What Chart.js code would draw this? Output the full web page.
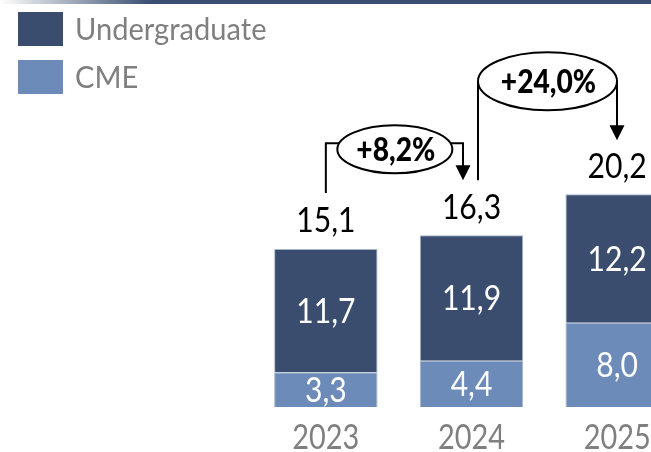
<!DOCTYPE html>
<html>
<head>
<meta charset="utf-8">
<script src="https://cdn.jsdelivr.net/npm/chart.js@4"></script>
<style>
html,body{margin:0;padding:0;overflow:hidden;background:#fff;width:651px;height:452px;}
canvas{display:block;}
</style>
</head>
<body>
<canvas id="c" width="690" height="452"></canvas>
<script>
const categories = ["2023", "2024", "2025"];
const undergraduate = [11.7, 11.9, 12.2];
const cme = [3.3, 4.4, 8.0];
const totals = [15.1, 16.3, 20.2];
const growthLabels = ["+8,2%", "+24,0%"];
const seriesNames = ["Undergraduate", "CME"];

const DARK = "#3a4d6e";
const LIGHT = "#6d8bb8";
const FONT = "Lato";
const fmt = v => v.toFixed(1).replace(".", ",");

function txt(ctx, s, x, y, font, color, sx, baseline) {
  ctx.save();
  ctx.font = font;
  ctx.fillStyle = color;
  ctx.textAlign = "center";
  ctx.textBaseline = baseline || "middle";
  ctx.translate(x, y);
  ctx.scale(sx, 1);
  ctx.fillText(s, 0, 0);
  ctx.restore();
}

const deco = {
  id: "deco",
  afterDraw(chart) {
    const ctx = chart.ctx;
    const xs = chart.scales.x, ys = chart.scales.y;
    ctx.save();
    // top gradient rule
    const g = ctx.createLinearGradient(0, 0, 150, 0);
    g.addColorStop(0, "rgba(58,79,114,0)");
    g.addColorStop(1, "#3a4f72");
    ctx.fillStyle = g;
    ctx.fillRect(0, 0, 150, 4);
    ctx.fillStyle = "#3a4f72";
    ctx.fillRect(150, 0, chart.width - 150, 4);

    // legend
    const legendCols = [DARK, LIGHT];
    ctx.font = "30px " + FONT;
    ctx.textBaseline = "middle";
    ctx.textAlign = "left";
    seriesNames.forEach((n, i) => {
      ctx.fillStyle = legendCols[i];
      ctx.fillRect(18, 12 + i * 48, 45, 34);
      ctx.save();
      ctx.translate(75, 30 + i * 48);
      ctx.scale(0.97, 1);
      ctx.fillStyle = "#7f7f7f";
      ctx.fillText(n, 0, 0);
      ctx.restore();
    });

    const cx = categories.map((c, i) => xs.getPixelForValue(i));
    const tops = totals.map(t => ys.getPixelForValue(t));
    const numFont = "35px " + FONT;

    // segment labels
    categories.forEach((c, i) => {
      const b0 = ys.getPixelForValue(0);
      const b1 = ys.getPixelForValue(cme[i]);
      const b2 = ys.getPixelForValue(cme[i] + undergraduate[i]);
      txt(ctx, fmt(cme[i]), cx[i], (b0 + b1) / 2 + 1, numFont, "#fff", 0.86);
      txt(ctx, fmt(undergraduate[i]), cx[i], (b1 + b2) / 2 + 1, numFont, "#fff", 0.86);
    });

    // totals
    categories.forEach((c, i) => {
      txt(ctx, fmt(totals[i]), cx[i], tops[i] - 16, numFont, "#000", 0.86, "alphabetic");
    });

    // year labels
    categories.forEach((c, i) => {
      txt(ctx, c, cx[i], ys.getPixelForValue(0) + 31, "34px " + FONT, "#7f7f7f", 0.85);
    });

    // growth annotations
    ctx.strokeStyle = "#000";
    ctx.fillStyle = "#000";
    ctx.lineWidth = 2;
    function arrowHead(x, tipY) {
      ctx.beginPath();
      ctx.moveTo(x - 7.5, tipY - 15);
      ctx.lineTo(x + 7.5, tipY - 15);
      ctx.lineTo(x, tipY);
      ctx.closePath();
      ctx.fillStyle = "#000";
      ctx.fill();
    }
    function ellipse(x, y, rx, ry, s) {
      ctx.beginPath();
      ctx.ellipse(x, y, rx, ry, 0, 0, Math.PI * 2);
      ctx.fillStyle = "#fff";
      ctx.fill();
      ctx.stroke();
      txt(ctx, s, x + 1, y + 1, "900 32px " + FONT, "#000", 0.88);
    }
    // +8,2%
    {
      const e = { x: cx[0] + 69, y: tops[1] - 86, rx: 57.5, ry: 24 };
      const ly = e.y - 6;
      const ax = cx[1] - 8.5;
      const tip = tops[1] - 55;
      ctx.beginPath();
      ctx.moveTo(cx[0], tops[0] - 55);
      ctx.lineTo(cx[0], ly);
      ctx.lineTo(e.x - e.rx + 2, ly);
      ctx.moveTo(e.x + e.rx - 2, ly);
      ctx.lineTo(ax, ly);
      ctx.lineTo(ax, tip - 14);
      ctx.stroke();
      arrowHead(ax, tip);
      ellipse(e.x, e.y, e.rx, e.ry, growthLabels[0]);
    }
    // +24,0%
    {
      const e = { x: cx[1] + 76, y: tops[2] - 113, rx: 69.5, ry: 29 };
      const lx = e.x - e.rx;
      const rx = e.x + e.rx;
      const tip = tops[2] - 54;
      ctx.beginPath();
      ctx.moveTo(lx, tops[1] - 55);
      ctx.lineTo(lx, e.y);
      ctx.moveTo(rx, e.y);
      ctx.lineTo(rx, tip - 14);
      ctx.stroke();
      arrowHead(rx, tip);
      ellipse(e.x, e.y, e.rx, e.ry, growthLabels[1]);
    }
    ctx.restore();
  }
};

new Chart(document.getElementById("c"), {
  type: "bar",
  data: {
    labels: categories,
    datasets: [
      { label: seriesNames[1], data: cme, backgroundColor: LIGHT, borderColor: "#a3b3cb", borderWidth: 1, barPercentage: 0.71, categoryPercentage: 1 },
      { label: seriesNames[0], data: undergraduate, backgroundColor: DARK, borderColor: "#a3b3cb", borderWidth: 1, barPercentage: 0.71, categoryPercentage: 1 }
    ]
  },
  options: {
    responsive: false,
    animation: false,
    layout: { padding: { left: 253, right: 0, top: 91, bottom: 45 } },
    plugins: { legend: { display: false }, tooltip: { enabled: false } },
    scales: {
      x: { stacked: true, display: false },
      y: { stacked: true, display: false, min: 0, max: 30 }
    }
  },
  plugins: [deco]
});
</script>
</body>
</html>
